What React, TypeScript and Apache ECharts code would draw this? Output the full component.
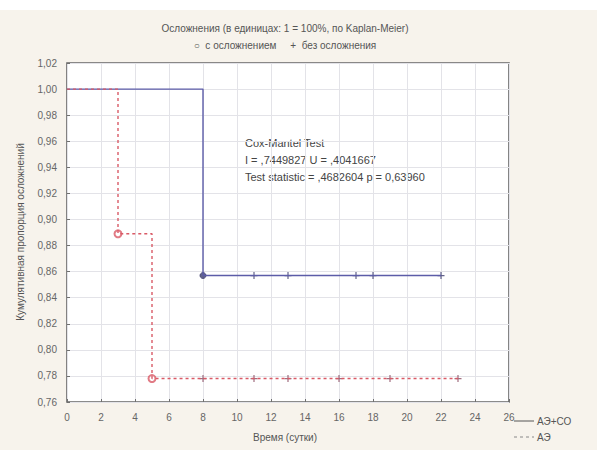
import React, { useEffect, useRef } from "react";
import * as echarts from "echarts";

const seriesNames = ["АЭ+СО", "АЭ"];
// Kaplan-Meier step points (time, cumulative proportion)
const curveAECO: [number, number][] = [[0, 1.0], [8, 0.857], [22, 0.857]];
const curveAE: [number, number][] = [[0, 1.0], [3, 0.889], [5, 0.778], [23, 0.778]];
// complete (event) observations
const eventsAECO: [number, number][] = [[8, 0.857]];
const eventsAE: [number, number][] = [[3, 0.889], [5, 0.778]];
// censored observations
const censoredAECO: [number, number][] = [[11, 0.857], [13, 0.857], [17, 0.857], [18, 0.857], [22, 0.857]];
const censoredAE: [number, number][] = [[8, 0.778], [11, 0.778], [13, 0.778], [16, 0.778], [19, 0.778], [23, 0.778]];

const titleText = "Осложнения (в единицах: 1 = 100%, по Kaplan-Meier)";
const markerLegend = "○  с осложнением     +  без осложнения";
const xName = "Время (сутки)";
const yName = "Кумулятивная пропорция осложнений";
const testLines = [
  "Cox-Mantel Test",
  "I = ,7449827 U = ,4041667",
  "Test statistic = ,4682604 p = 0,63960",
];

const FONT = "Liberation Sans, Arial, sans-serif";
const BLUE = "#5c5ca8";
const BLUE_DARK = "#3c3c6e";
const RED = "#d95a66";

const plusPath = "path://M0,5L10,5M5,0L5,10";

export default function App() {
  const ref = useRef<HTMLDivElement>(null);
  useEffect(() => {
    if (!ref.current) return;
    const chart = echarts.init(ref.current, null, { renderer: "svg" });
    chart.setOption({
      animation: false,
      backgroundColor: "#f7f3ec",
      textStyle: { fontFamily: FONT },
      grid: {
        left: 67,
        right: 88,
        top: 63,
        bottom: 48,
        show: true,
        backgroundColor: "#ffffff",
        borderColor: "#666666",
        borderWidth: 1.6,
      },
      xAxis: {
        type: "value",
        min: 0,
        max: 26,
        interval: 2,
        axisLine: { show: false },
        axisTick: { show: true, inside: true, length: 3, lineStyle: { color: "#707070" } },
        axisLabel: { color: "#666", fontSize: 10, margin: 10, fontFamily: FONT },
        splitLine: { show: true, lineStyle: { color: "#e3e3e8", width: 1 } },
      },
      yAxis: {
        type: "value",
        min: 0.76,
        max: 1.02,
        interval: 0.02,
        axisLine: { show: false },
        axisTick: { show: true, inside: true, length: 3, lineStyle: { color: "#707070" } },
        axisLabel: {
          color: "#666",
          fontSize: 10,
          margin: 10,
          fontFamily: FONT,
          formatter: (v: number) => v.toFixed(2).replace(".", ","),
        },
        splitLine: { show: true, lineStyle: { color: "#e3e3e8", width: 1 } },
      },
      series: [
        {
          name: seriesNames[0],
          type: "line",
          step: "end",
          data: curveAECO,
          showSymbol: false,
          lineStyle: { color: BLUE, width: 1.4 },
        },
        {
          name: seriesNames[1],
          type: "line",
          step: "end",
          data: curveAE,
          showSymbol: false,
          lineStyle: { color: RED, width: 1.4, type: [3, 3] },
        },
        {
          type: "scatter",
          data: eventsAECO,
          symbol: "circle",
          symbolSize: 6,
          itemStyle: { color: BLUE_DARK, borderColor: BLUE_DARK, borderWidth: 1 },
        },
        {
          type: "scatter",
          data: eventsAE,
          symbol: "emptyCircle",
          symbolSize: 7,
          itemStyle: { color: RED, borderColor: RED, borderWidth: 1.2 },
        },
        {
          type: "scatter",
          data: censoredAECO,
          symbol: plusPath,
          symbolSize: 7,
          itemStyle: { color: "none", borderColor: BLUE_DARK, borderWidth: 1.2 },
        },
        {
          type: "scatter",
          data: censoredAE,
          symbol: plusPath,
          symbolSize: 7,
          itemStyle: { color: "none", borderColor: "#8a4a60", borderWidth: 1.2 },
        },
      ],
      graphic: [
        { type: "rect", left: 0, top: 0, shape: { width: 597, height: 10 }, style: { fill: "#ffffff" }, silent: true },
        {
          type: "text",
          x: 285,
          y: 28,
          style: { text: titleText, fill: "#555", font: `10px ${FONT}`, textAlign: "center", textVerticalAlign: "middle" },
        },
        {
          type: "text",
          x: 285,
          y: 45,
          style: { text: markerLegend, fill: "#555", font: `10px ${FONT}`, textAlign: "center", textVerticalAlign: "middle" },
        },
        {
          type: "text",
          x: 285,
          y: 437,
          style: { text: xName, fill: "#555", font: `10px ${FONT}`, textAlign: "center", textVerticalAlign: "middle" },
        },
        {
          type: "text",
          x: 20,
          y: 232,
          rotation: Math.PI / 2,
          style: { text: yName, fill: "#555", font: `10px ${FONT}`, textAlign: "center", textVerticalAlign: "middle" },
        },
        {
          type: "text",
          x: 245,
          y: 160,
          style: {
            text: testLines.join("\n"),
            fill: "#444",
            font: `11px ${FONT}`,
            lineHeight: 17,
            textAlign: "left",
            textVerticalAlign: "middle",
          },
        },
        { type: "line", shape: { x1: 514, y1: 421, x2: 534, y2: 421 }, style: { stroke: "#555", lineWidth: 1 } },
        {
          type: "text",
          x: 537,
          y: 421,
          style: { text: seriesNames[0], fill: "#555", font: `10px ${FONT}`, textVerticalAlign: "middle" },
        },
        { type: "line", shape: { x1: 514, y1: 437, x2: 534, y2: 437 }, style: { stroke: "#888", lineWidth: 1, lineDash: [3, 3] } },
        {
          type: "text",
          x: 537,
          y: 437,
          style: { text: seriesNames[1], fill: "#555", font: `10px ${FONT}`, textVerticalAlign: "middle" },
        },
      ],
    });
    return () => chart.dispose();
  }, []);
  return <div ref={ref} style={{ width: 597, height: 450, position: "absolute", left: 0, top: 0 }} />;
}
